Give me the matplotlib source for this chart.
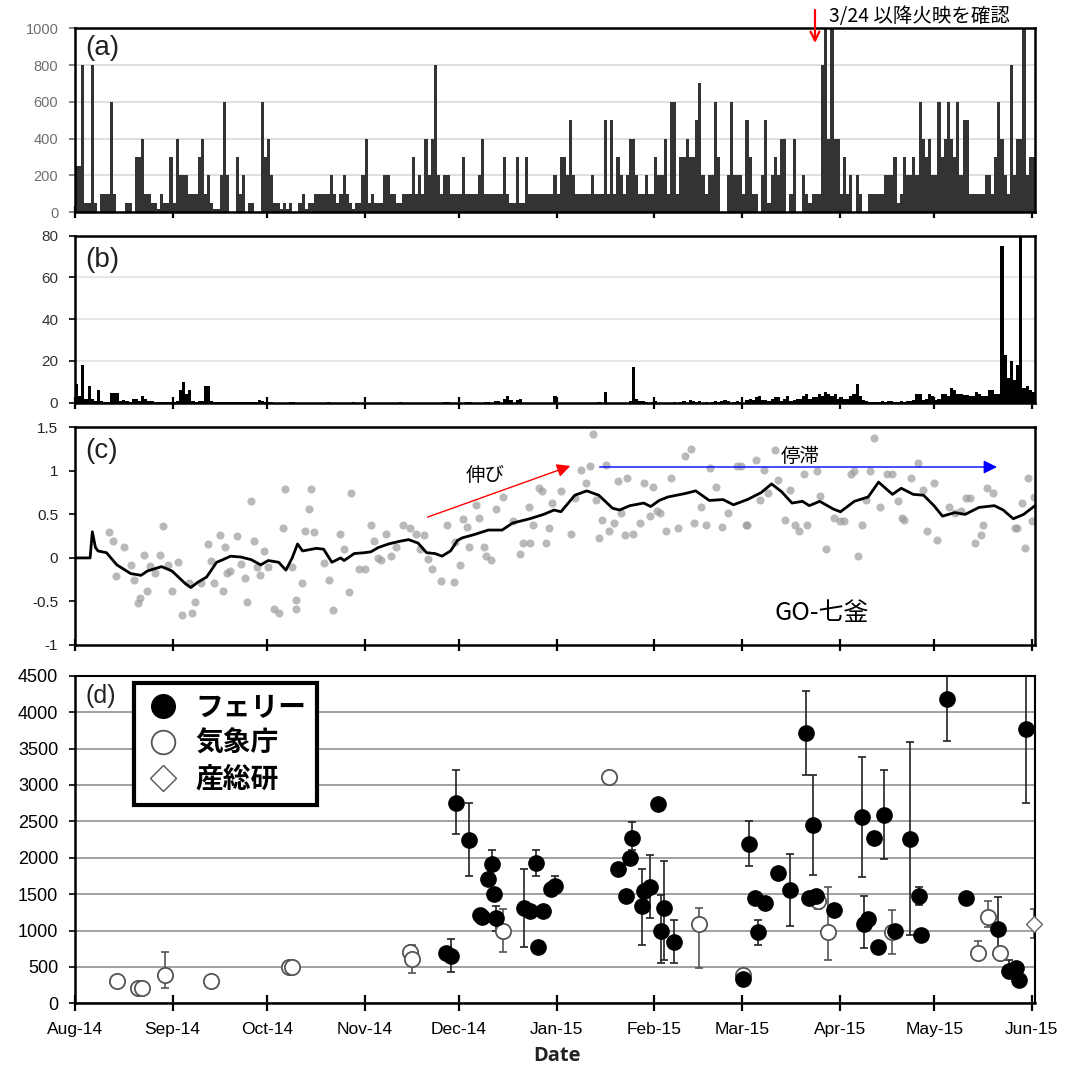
import matplotlib
matplotlib.use("Agg")
import matplotlib.pyplot as plt
from matplotlib.lines import Line2D
import numpy as np

plt.rcParams['font.family'] = ['Liberation Sans', 'Noto Sans CJK JP', 'DejaVu Sans']

# ---------------------------------------------------------------- data
# x axis: days since 2014-08-01
month_ticks = [0, 31, 61, 92, 122, 153, 184, 212, 243, 273, 304]
month_labels = ['Aug-14', 'Sep-14', 'Oct-14', 'Nov-14', 'Dec-14', 'Jan-15',
                'Feb-15', 'Mar-15', 'Apr-15', 'May-15', 'Jun-15']

# (a) daily values, one per day from 2014-08-01
count_a = [
    250, 250, 800, 50, 50, 800, 50, 0, 100, 100,
    100, 600, 100, 0, 0, 0, 50, 50, 0, 300,
    300, 400, 100, 100, 50, 50, 20, 100, 50, 50,
    300, 50, 400, 200, 200, 200, 100, 100, 100, 300,
    400, 100, 200, 50, 20, 20, 200, 600, 200, 0,
    0, 300, 100, 200, 0, 50, 50, 0, 0, 600,
    300, 400, 200, 50, 50, 20, 50, 20, 50, 0,
    0, 50, 100, 20, 50, 50, 100, 100, 100, 100,
    100, 200, 100, 50, 100, 200, 100, 50, 20, 50,
    50, 200, 400, 50, 100, 50, 50, 50, 200, 200,
    100, 100, 50, 50, 100, 100, 100, 300, 100, 200,
    100, 400, 200, 400, 800, 200, 100, 200, 200, 100,
    100, 100, 100, 300, 100, 100, 100, 100, 200, 400,
    100, 100, 100, 100, 100, 100, 300, 100, 50, 50,
    300, 50, 50, 300, 100, 100, 100, 100, 100, 100,
    100, 100, 200, 100, 300, 300, 200, 500, 200, 100,
    100, 100, 100, 100, 200, 100, 100, 100, 500, 100,
    500, 100, 300, 200, 100, 200, 400, 400, 200, 100,
    100, 200, 100, 100, 300, 200, 200, 400, 100, 600,
    600, 100, 300, 300, 400, 300, 300, 500, 700, 200,
    100, 200, 200, 600, 300, 0, 0, 200, 600, 200,
    200, 200, 100, 500, 300, 100, 100, 0, 200, 500,
    50, 200, 300, 200, 400, 400, 0, 100, 400, 0,
    0, 200, 100, 50, 100, 100, 100, 800, 1000, 400,
    1000, 400, 400, 100, 300, 100, 200, 0, 200, 100,
    0, 0, 100, 100, 100, 100, 100, 200, 200, 200,
    300, 50, 100, 300, 200, 200, 300, 200, 600, 400,
    300, 400, 200, 200, 600, 300, 400, 600, 400, 300,
    600, 200, 500, 500, 100, 100, 100, 100, 100, 200,
    200, 100, 300, 600, 400, 200, 100, 800, 200, 400,
    400, 1000, 200, 300, 300,
]

# (b) daily values (days with non-zero counts)
b_days = [0, 1, 2, 3, 4, 5, 6, 7, 8, 9, 10, 11, 12, 13, 14, 15, 16, 17, 18, 19,
          20, 21, 22, 23, 24, 25, 26, 27, 28, 29, 30, 31, 32, 33, 34, 35, 36, 37, 38, 39,
          40, 41, 42, 43, 44, 45, 46, 47, 48, 49, 50, 51, 52, 53, 54, 55, 56, 57, 58, 59,
          60, 61, 62, 68, 69, 80, 88, 103, 117, 118, 124, 125, 130, 131, 133, 134, 136, 137, 138, 140,
          141, 152, 166, 168, 176, 177, 178, 179, 180, 181, 183, 184, 190, 192, 193, 195, 196, 197, 198, 200,
          202, 203, 204, 205, 206, 207, 209, 210, 211, 213, 214, 215, 216, 217, 218, 219, 220, 221, 222, 223,
          224, 225, 226, 227, 228, 229, 230, 231, 232, 233, 234, 235, 236, 237, 238, 239, 240, 241, 242, 243,
          244, 245, 246, 247, 248, 249, 250, 251, 252, 253, 254, 255, 256, 257, 258, 259, 260, 261, 262, 263,
          264, 265, 266, 267, 268, 269, 270, 271, 272, 273, 274, 275, 276, 277, 278, 279, 280, 281, 282, 283,
          284, 285, 286, 287, 288, 289, 290, 291, 292, 293, 294, 295, 296, 297, 298, 299, 300, 301, 302, 303,
          304]
b_vals = [9, 3, 18, 2, 8, 2, 1, 6, 1, 0.5, 0.5, 4.5, 4.5, 4.5, 1, 1.5, 1, 0.5, 2, 2,
          1, 3, 2, 1, 1, 0.5, 0.5, 0.5, 0.3, 0.3, 0.3, 0.3, 1, 6, 10, 4, 6, 1, 0.5, 1,
          1, 8, 8, 1, 0.5, 0.5, 0.5, 0.5, 0.3, 0.3, 0.5, 0.5, 0.3, 0.5, 0.5, 0.3, 0.3, 0.5, 1.5, 1,
          0.5, 0.5, 0.5, 0.5, 0.5, 0.5, 0.5, 0.5, 0.5, 0.5, 0.5, 0.5, 0.5, 0.5, 1, 1, 2, 3, 1.5, 1.5,
          2, 3, 0.5, 5, 1, 17, 2, 1, 1, 0.5, 0.5, 1, 0.5, 0.5, 1, 1.5, 1, 0.5, 1, 0.5,
          0.5, 1, 0.5, 1, 1.5, 1, 0.5, 1, 0.5, 1.5, 2, 1.5, 2.5, 3, 1.5, 1.5, 1, 2, 2.5, 2.5,
          1, 2, 3, 1, 1.5, 2, 2, 3, 4, 2, 2.5, 2.5, 4, 3, 5, 4, 3, 4, 2, 2.5,
          2, 2, 3, 4, 9, 3, 1.5, 1, 0.5, 0.5, 0.5, 0.5, 1, 0.5, 1, 1, 0.5, 0.5, 1, 0.5,
          1, 1, 1.5, 4, 4, 1.5, 2, 4, 3, 1.5, 2, 4, 4, 3, 7, 6, 4, 4, 3.5, 3.5,
          3, 3, 5, 4, 3, 3, 6, 6, 4, 4, 75, 23, 12, 20, 11, 18, 90, 7, 8, 6,
          5]

# (c) daily values (grey dots) and smoothed trend (black line)
c_dot_days = [10.9, 12, 13, 15.7, 17.9, 18.8, 19.9, 20.8, 21.9, 23, 23.7, 25.4, 27, 27.9, 29.7,
              30.8, 32.8, 33.9, 36.1, 37.2, 38, 40.1, 42.3, 43.1, 44.2, 46.1, 47, 47.8, 48.3, 49.2,
              51.6, 52.7, 54, 54.8, 55.9, 56.8, 57.9, 58.7, 60.1, 61.4, 63.1, 64.9, 66, 66.6, 68.8,
              70.1, 70.3, 72.1, 73.2, 74.2, 75.1, 75.8, 79.1, 80.8, 81.9, 84.1, 85.4, 87.1, 87.8, 90.3,
              92, 94.2, 95.1, 96.4, 97.3, 98.8, 100.3, 101.9, 104.3, 106.3, 108.3, 109.6, 110.9, 112.3,
              113.4, 116.2, 118.1, 120.3, 120.6, 122.2, 123.3, 124.4, 125.2, 127.3, 128.2, 129.8, 130.6,
              132.1, 133.7, 136.1, 139.1, 141.3, 142.4, 144.1, 145.5, 147.3, 144.7, 148.4, 149.5, 150.5,
              151.7, 154.4, 157.5, 158.8, 160.8, 162.3, 163.7, 164.6, 165.6, 166.4, 167.5, 168.6, 169.7,
              171.4, 172.4, 173.6, 174.6, 175.5, 177.2, 179.5, 180.7, 182.7, 183.7, 185, 185.9, 187.9,
              189.5, 191.7, 193.9, 195.6, 196.7, 198.8, 200.5, 201.6, 203.7, 205.4, 207.6, 210.3, 211.6,
              213.1, 213.6, 216.4, 217.7, 219, 220.1, 222.3, 223.4, 225.6, 227.3, 228.6, 230, 231.6,
              232.7, 235.7, 236.6, 238.6, 241, 243.2, 244.3, 246.5, 247.6, 248.7, 250, 251.4, 252.5,
              253.8, 255.8, 258, 259.7, 261.6, 262.9, 263.5, 265.7, 267.9, 269.5, 270.6, 272.8, 273.9,
              277.7, 279.5, 281.6, 283.2, 284.3, 286, 288, 288.4, 289.9, 291.5, 298.6, 299.2, 300.8,
              301.9, 302.7, 304.1, 304.7]
c_dot_vals = [0.30, 0.19, -0.21, 0.12, -0.08, -0.25, -0.52, -0.46, 0.03, -0.38, -0.09, -0.17, 0.03, 0.37, -0.08,
              -0.38, -0.05, -0.66, -0.29, -0.63, -0.51, -0.29, 0.16, -0.04, -0.29, 0.26, -0.38, 0.13, -0.17, -0.15,
              0.25, -0.07, -0.23, -0.51, 0.65, 0.19, -0.10, -0.20, 0.08, -0.10, -0.59, -0.63, 0.34, 0.79, -0.10,
              -0.48, -0.59, -0.29, 0.31, 0.56, 0.79, 0.30, -0.06, -0.25, -0.60, 0.27, 0.10, -0.39, 0.75, -0.13,
              -0.13, 0.38, 0.20, 0.00, -0.02, 0.28, 0.02, 0.13, 0.38, 0.34, 0.27, 0.10, 0.26, -0.01,
              -0.13, -0.27, 0.38, -0.28, 0.18, -0.08, 0.45, 0.36, 0.13, 0.61, 0.46, 0.13, 0.02,
              -0.02, 0.56, 0.70, 0.42, 0.04, 0.17, 0.59, 0.38, 0.80, 0.17, 0.77, 0.17, 0.34,
              0.63, 0.77, 0.27, 0.69, 1.01, 0.86, 1.05, 1.42, 0.67, 0.23, 0.44, 1.07, 0.31,
              0.40, 0.88, 0.52, 0.26, 0.92, 0.27, 0.40, 0.86, 0.48, 0.82, 0.54, 0.52, 0.31,
              0.92, 0.34, 1.17, 1.25, 0.40, 0.59, 0.38, 1.03, 0.82, 0.36, 0.52, 1.05, 1.05,
              0.38, 0.38, 1.13, 0.67, 1.01, 0.75, 1.24, 0.89, 0.43, 0.78, 0.38, 0.31, 0.96,
              0.38, 1.00, 0.71, 0.10, 0.46, 0.42, 0.42, 0.96, 1.00, 0.02, 0.38, 0.67, 1.00,
              1.38, 0.59, 0.96, 0.96, 0.65, 0.46, 0.44, 0.92, 1.09, 0.78, 0.31, 0.86, 0.21,
              0.59, 0.52, 0.54, 0.69, 0.69, 0.17, 0.26, 0.38, 0.80, 0.75, 0.34, 0.34, 0.63,
              0.11, 0.92, 0.42, 0.70]

c_line_days = [0, 4.8, 5.5, 6.5, 7.3, 10, 13.3, 17.7, 21, 23, 27.5, 30.8, 35.2, 36.8, 39, 41.8, 45, 47,
               49.4, 52.7, 56, 59, 61.4, 64.7, 67, 69, 70.7, 72.3, 76.7, 79, 81.6, 84.4, 85.5, 88.7,
               92, 94, 96.4, 99.6, 103, 106, 109, 111.7, 114.4, 116.6, 119.3, 121.5, 123, 127, 131.3,
               135.7, 139, 142.3, 144.5, 148.9, 152.2, 154.4, 158.8, 162.6, 166.4, 170.8, 173, 176.3,
               180.7, 182.9, 185.6, 188.4, 193.9, 197.2, 201.5, 205.9, 209.2, 213.6, 218, 221.3, 224.5,
               227.8, 231.1, 233.3, 236.6, 241, 243.2, 247.6, 252, 255.3, 259.7, 262.5, 266.3, 269.6,
               272.9, 275.6, 279.5, 282.8, 287.2, 292.1, 294.9, 298.1, 301.4, 305]
c_line_vals = [0, 0, 0.3, 0.12, 0.08, 0.06, -0.08, -0.18, -0.2, -0.15, -0.1, -0.15, -0.3, -0.34, -0.28,
               -0.22, -0.05, -0.02, 0.02, 0.01, -0.02, -0.08, -0.03, -0.05, -0.14, 0.0, 0.16, 0.08,
               0.11, 0.1, -0.05, 0.0, -0.03, 0.05, 0.06, 0.07, 0.12, 0.16, 0.19, 0.21, 0.17, 0.06,
               0.05, 0.02, 0.08, 0.2, 0.23, 0.27, 0.32, 0.32, 0.4, 0.43, 0.45, 0.5, 0.55, 0.53, 0.72,
               0.77, 0.72, 0.57, 0.55, 0.6, 0.63, 0.59, 0.66, 0.7, 0.74, 0.77, 0.66, 0.67, 0.61, 0.67,
               0.75, 0.85, 0.76, 0.63, 0.65, 0.6, 0.65, 0.56, 0.53, 0.65, 0.7, 0.87, 0.73, 0.8, 0.73,
               0.72, 0.6, 0.48, 0.52, 0.5, 0.58, 0.6, 0.55, 0.45, 0.5, 0.6]

# (d) emission rates: value and error-bar range (None where no bar is drawn)
ferry_days = [118.0, 119.3, 121.0, 125.1, 128.8, 129.2, 131.1, 132.4, 133.2, 133.8, 142.6, 144.5,
              146.6, 147.2, 148.7, 151.1, 152.4, 172.4, 175.1, 176.2, 177.1, 180.1, 180.8, 182.8,
              185.2, 186.1, 187.2, 190.3, 212.2, 214.1, 216.0, 217.1, 219.1, 223.3, 227.3, 232.2,
              233.1, 234.4, 235.3, 241.2, 250.0, 250.8, 252.1, 253.9, 255.0, 257.1, 260.5, 265.2,
              268.1, 268.8, 277.0, 283.2, 293.3, 296.6, 299.1, 299.9, 302.0]
ferry_vals = [696, 655, 2756, 2243, 1213, 1190, 1708, 1909, 1497, 1167, 1305, 1262,
              1932, 769, 1262, 1570, 1616, 1845, 1478, 1997, 2272, 1331, 1538, 1593,
              2731, 996, 1308, 845, 330, 2190, 1446, 973, 1377, 1786, 1561, 3713,
              1446, 2456, 1478, 1281, 2557, 1088, 1157, 2272, 780, 2593, 987, 2258,
              1478, 941, 4186, 1441, 1019, 445, 491, 321, 3773]
ferry_lo = [None, 435, 2320, 1750, None, None, None, 1900, None, 1000, 780, None,
            1750, None, None, None, 1520, None, None, None, 2100, 800, None, 1170,
            2650, 550, 600, 560, None, 1880, None, 800, None, None, 1065, 3130,
            None, 1760, None, None, 1740, 760, None, None, None, 1985, None, 940,
            1350, None, 3600, None, 690, 350, None, None, 2750]
ferry_hi = [None, 880, 3200, 2750, None, None, None, 2106, None, 1340, 1850, None,
            2100, None, None, None, 1750, None, None, None, 2490, 1845, None, 2040,
            2800, 1490, 1960, 1150, None, 2500, None, 1145, None, None, 2050, 4290,
            None, 3130, None, None, 3380, 1480, None, None, None, 3200, None, 3590,
            1600, None, 4600, None, 1460, 600, None, None, 4600]

jma_days = [13.5, 19.9, 21.2, 28.6, 43.2, 68.0, 69.1, 106.4, 107.1, 136.0, 169.5, 198.2,
            212.2, 236.0, 239.3, 259.6, 286.8, 290.1, 293.8]
jma_vals = [307, 206, 206, 389, 307, 504, 494, 710, 604, 993, 3107, 1088,
            390, 1409, 982, 973, 693, 1189, 693]
jma_lo = [None, None, None, 206, None, None, None, None, 412, 700, None, 491,
          None, 1300, 592, 675, 600, 1050, None]
jma_hi = [None, None, None, 710, None, None, None, None, 800, 1300, None, 1308,
          None, 1500, 1602, 1281, 850, 1400, None]

aist_days = [304.6]
aist_vals = [1088]
aist_lo = [900]
aist_hi = [1300]

# ---------------------------------------------------------------- layout
W, H = 1072, 1067
fig = plt.figure(figsize=(W / 100, H / 100), dpi=100)


def box(top_px, bottom_px):
    return [75 / W, 1 - bottom_px / H, 960 / W, (bottom_px - top_px) / H]


ax_a = fig.add_axes(box(28.3, 212.3))
ax_b = fig.add_axes(box(235.7, 402.7))
ax_c = fig.add_axes(box(427.3, 645.0))
ax_d = fig.add_axes(box(675.7, 1003.3))

for ax in (ax_a, ax_b, ax_c, ax_d):
    ax.set_xlim(0, 305)
    ax.set_xticks(month_ticks)
    ax.tick_params(axis='x', direction='inout', length=8, width=1.6, color='black')
    ax.tick_params(axis='y', direction='out', length=4, width=1.2, pad=8)
    for s in ax.spines.values():
        s.set_linewidth(1.8)
        s.set_color('black')

for ax in (ax_a, ax_b, ax_c):
    ax.set_xticklabels([])

# (a)
days_a = np.arange(len(count_a))
ax_a.bar(days_a, count_a, width=1.0, align='edge', color='#333333', linewidth=0, zorder=2)
ax_a.set_ylim(0, 1000)
ax_a.set_yticks(range(0, 1001, 200))
ax_a.tick_params(axis='y', labelsize=10.5, labelcolor='#6e6e6e', color='#6e6e6e')
ax_a.grid(axis='y', color='#d9d9d9', linewidth=1.2, zorder=0)
ax_a.set_axisbelow(True)
ax_a.text(0.011, 0.965, '(a)', transform=ax_a.transAxes, fontsize=20, va='top', ha='left',
          color='#222222')
ax_a.annotate('', xy=(235.1, 905), xytext=(235.1, 1115),
              arrowprops=dict(arrowstyle='->', color='red', lw=1.6, mutation_scale=16),
              annotation_clip=False)
ax_a.text(239.5, 1062, '3/24 以降火映を確認', fontsize=14, va='center', ha='left',
          family=['Noto Sans CJK JP', 'DejaVu Sans'], clip_on=False)

# (b)
ax_b.bar(b_days, b_vals, width=1.0, align='edge', color='black', linewidth=0, zorder=2)
ax_b.set_ylim(0, 80)
ax_b.set_yticks(range(0, 81, 20))
ax_b.tick_params(axis='y', labelsize=11, labelcolor='#333333')
ax_b.grid(axis='y', color='#e2e2e2', linewidth=1.2, zorder=0)
ax_b.set_axisbelow(True)
ax_b.text(0.011, 0.93, '(b)', transform=ax_b.transAxes, fontsize=20, va='top', ha='left',
          color='#222222')

# (c)
ax_c.scatter(c_dot_days, c_dot_vals, s=34, color='#9c9c9c', alpha=0.7, linewidths=0, zorder=2)
ax_c.plot(c_line_days, c_line_vals, color='black', lw=2.0, zorder=3)
ax_c.set_ylim(-1, 1.5)
ax_c.set_yticks([-1, -0.5, 0, 0.5, 1, 1.5])
ax_c.set_yticklabels(['-1', '-0.5', '0', '0.5', '1', '1.5'])
ax_c.tick_params(axis='y', labelsize=11, labelcolor='#222222')
ax_c.text(0.011, 0.95, '(c)', transform=ax_c.transAxes, fontsize=20, va='top', ha='left',
          color='#222222')
ax_c.annotate('', xy=(158.2, 1.067), xytext=(111.2, 0.458),
              arrowprops=dict(arrowstyle='-|>', color='red', lw=1.0, mutation_scale=20))
ax_c.annotate('', xy=(293.8, 1.044), xytext=(165.8, 1.044),
              arrowprops=dict(arrowstyle='-|>', color='blue', lw=1.0, mutation_scale=20))
cjk = ['Noto Sans CJK JP', 'DejaVu Sans']
ax_c.text(130.2, 0.95, '伸び', fontsize=14, ha='center', va='center', family=cjk)
ax_c.text(230.3, 1.16, '停滞', fontsize=14, ha='center', va='center', family=cjk)
ax_c.text(237.3, -0.63, 'GO-七釜', fontsize=18, ha='center', va='center', family=cjk)

# (d)
def split_err(days, vals, lo, hi):
    xs, ys, el, eh = [], [], [], []
    for d, v, l, h in zip(days, vals, lo, hi):
        if l is not None:
            xs.append(d)
            ys.append(v)
            el.append(v - l)
            eh.append(h - v)
    return xs, ys, [el, eh]


ax_d.grid(axis='y', color='#9a9a9a', linewidth=1.3, zorder=0)
ax_d.set_axisbelow(True)

for days, vals, lo, hi, col in ((ferry_days, ferry_vals, ferry_lo, ferry_hi, '#222222'),
                                (jma_days, jma_vals, jma_lo, jma_hi, '#555555'),
                                (aist_days, aist_vals, aist_lo, aist_hi, '#555555')):
    xs, ys, yerr = split_err(days, vals, lo, hi)
    ax_d.errorbar(xs, ys, yerr=yerr, fmt='none', ecolor=col, elinewidth=1.2,
                  capsize=3, capthick=1.2, zorder=2, clip_on=True)

ax_d.plot(jma_days, jma_vals, 'o', ms=11, mfc='white', mec='#555555', mew=1.3, zorder=3)
ax_d.plot(aist_days, aist_vals, 'D', ms=8, mfc='white', mec='#666666', mew=1.0, zorder=3,
          clip_on=False)
ax_d.plot(ferry_days, ferry_vals, 'o', ms=11, mfc='black', mec='black', zorder=4)

ax_d.set_ylim(0, 4500)
ax_d.set_yticks(range(0, 4501, 500))
ax_d.tick_params(axis='y', labelsize=13, labelcolor='black')
ax_d.tick_params(axis='x', labelsize=12.5, pad=8, length=11)
ax_d.set_xticklabels(month_labels)
ax_d.spines['top'].set_linewidth(1.5)
ax_d.spines['right'].set_linewidth(1.5)
ax_d.text(0.011, 0.975, '(d)', transform=ax_d.transAxes, fontsize=18, va='top', ha='left',
          color='#222222')

handles = [
    Line2D([], [], ls='none', marker='o', ms=17, mfc='black', mec='black'),
    Line2D([], [], ls='none', marker='o', ms=17, mfc='white', mec='#555555', mew=1.3),
    Line2D([], [], ls='none', marker='D', ms=13, mfc='white', mec='#555555', mew=1.0),
]
leg = ax_d.legend(handles, ['フェリー', '気象庁', '産総研'], loc='upper left',
                  bbox_to_anchor=(0.0615, 0.978), borderaxespad=0, frameon=True,
                  fancybox=False, edgecolor='black', framealpha=1,
                  prop=dict(family=cjk, weight='bold', size=20),
                  handlelength=1.3, handletextpad=0.5, labelspacing=0.28,
                  borderpad=0.4)
leg.get_frame().set_linewidth(3)
leg.set_zorder(6)

fig.text(557 / W, 1 - 1056 / H, 'Date', fontsize=14.5, fontweight='bold', ha='center',
         va='center', family=['Open Sans', 'DejaVu Sans'], color='#222222')

fig.savefig('out.png', dpi=100)
